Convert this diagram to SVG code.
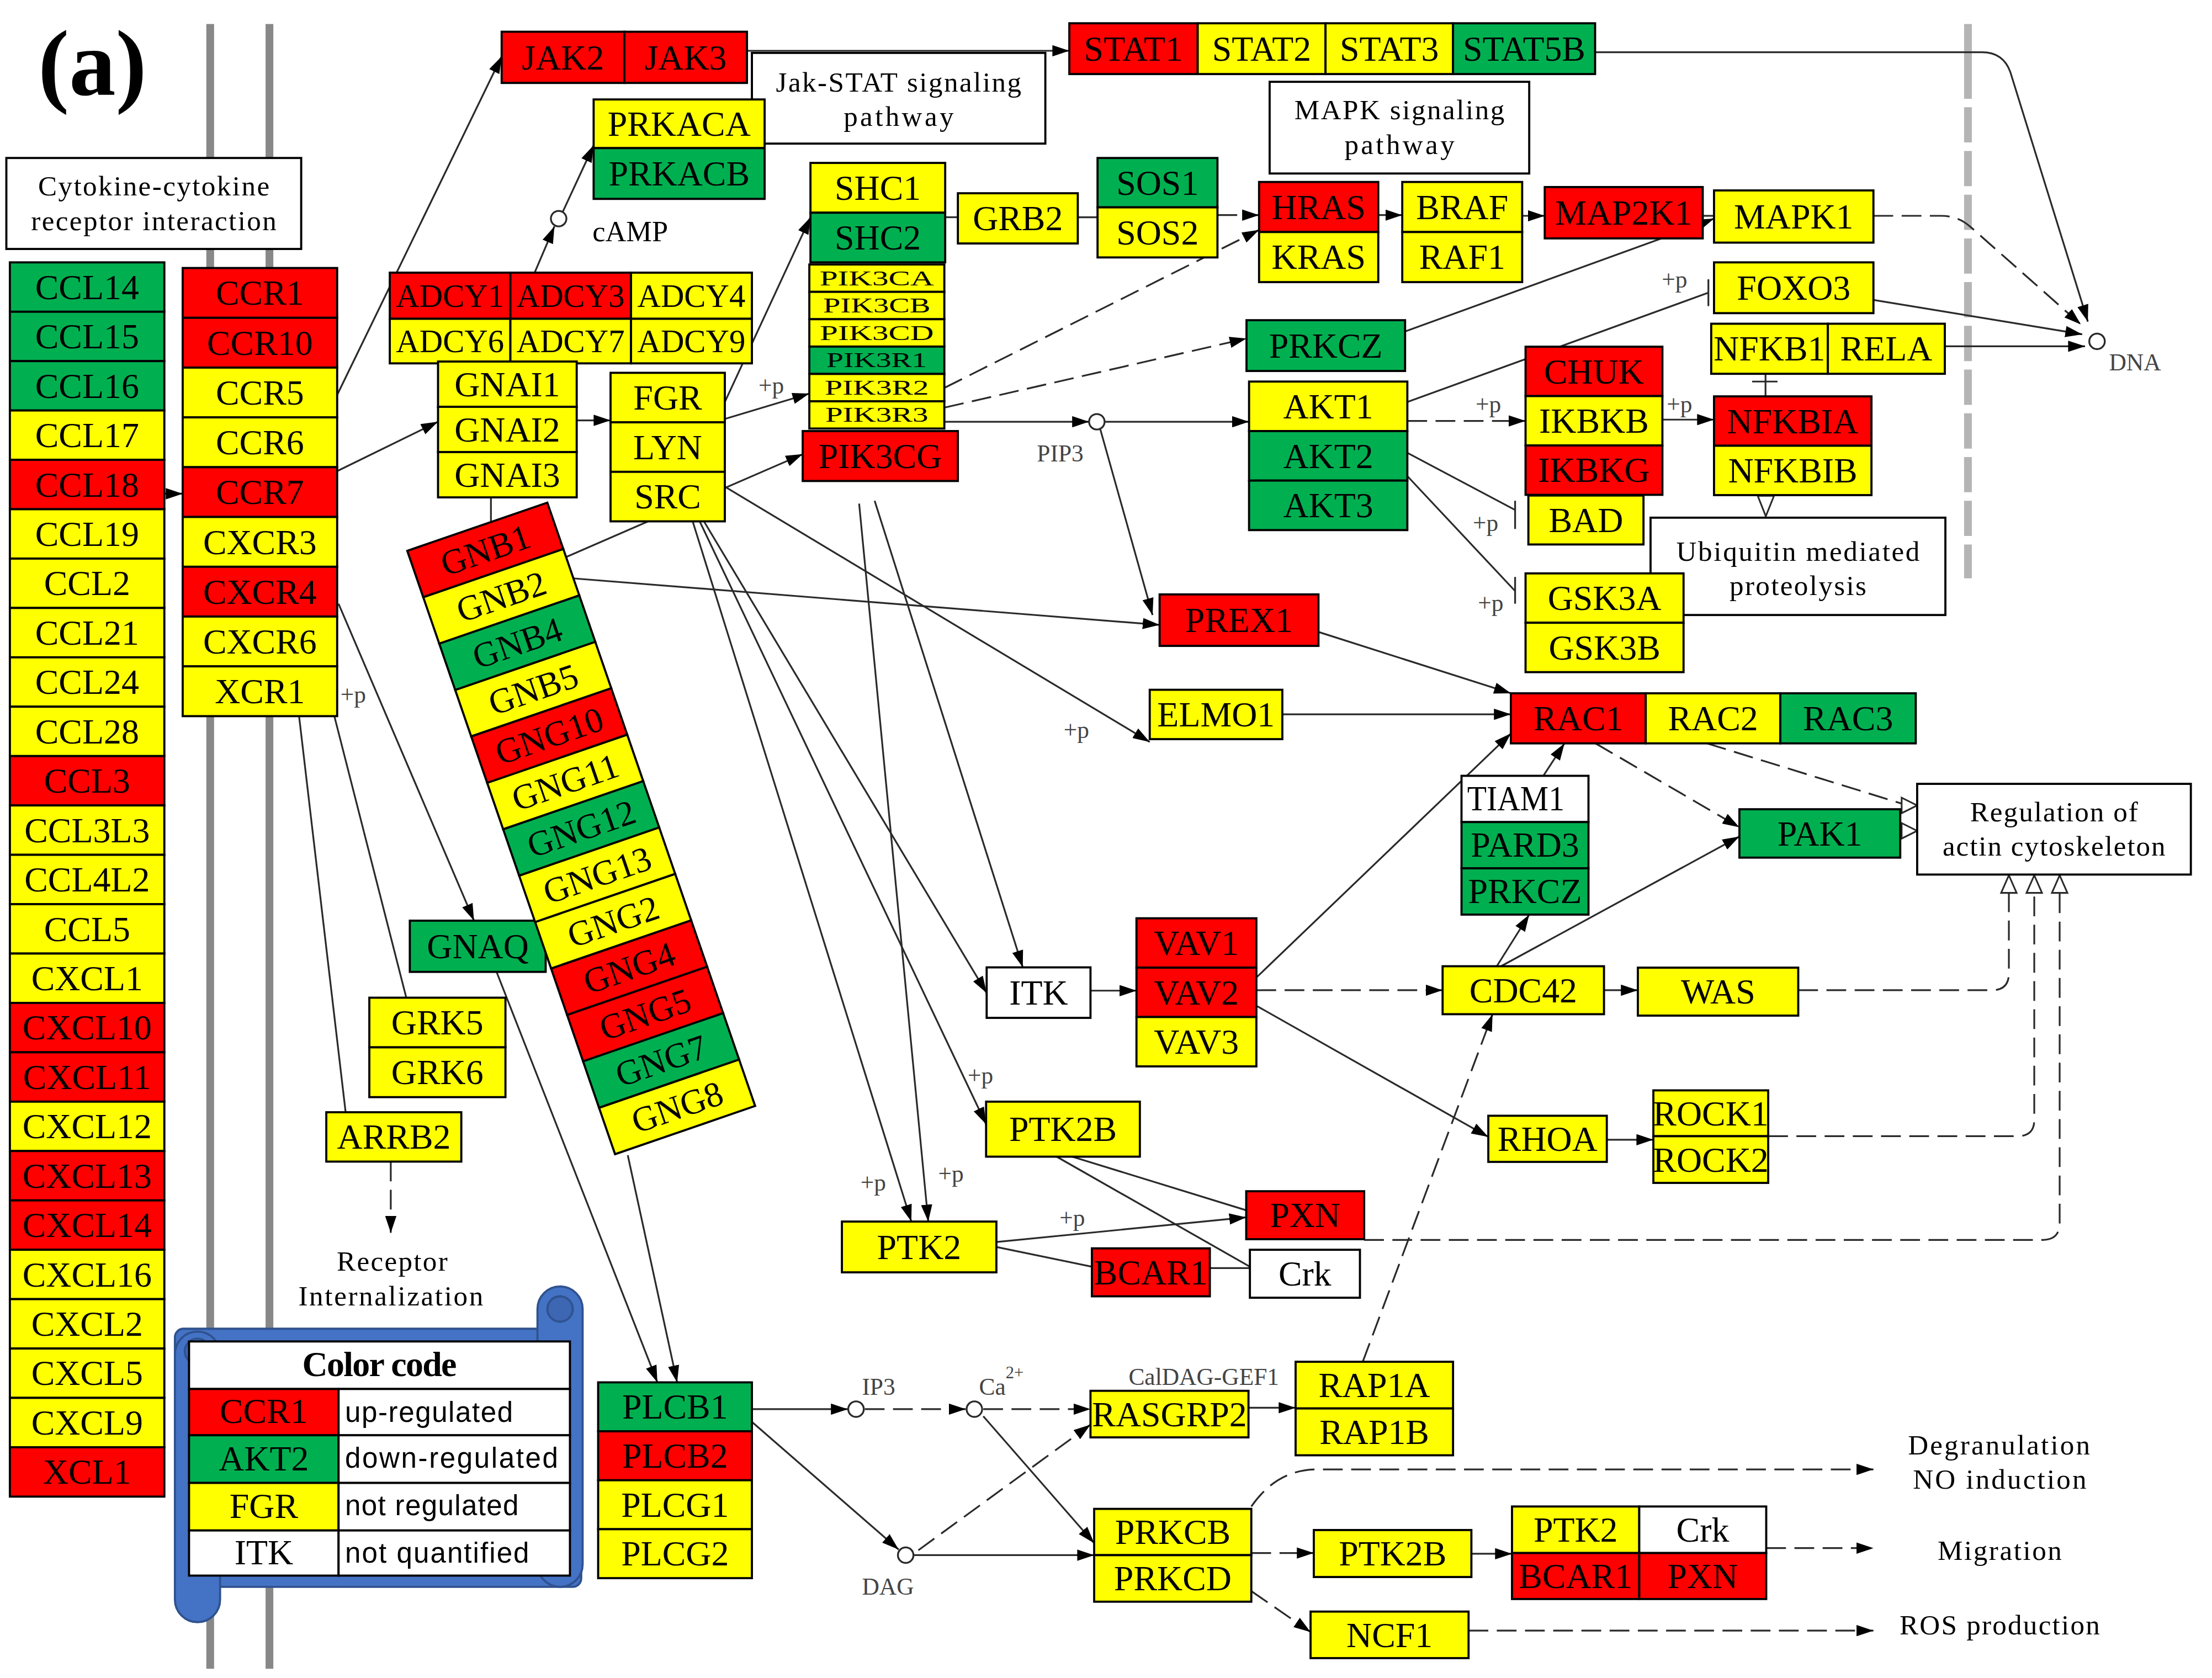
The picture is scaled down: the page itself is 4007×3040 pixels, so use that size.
<svg xmlns="http://www.w3.org/2000/svg" width="4007" height="3040" viewBox="0 0 4007 3040">
<defs>
<style>
text{font-family:"Liberation Serif","Times New Roman",serif;fill:#000}
.n rect{stroke:#000;stroke-width:1.5}
.R{fill:#FF0000}.G{fill:#00B050}.Y{fill:#FFFF00}.W{fill:#FFFFFF}
.n text{font-size:25px;text-anchor:middle}
.s text{font-size:23px}
.pk text{font-size:15px}
.lbl{font-size:20px;text-anchor:middle}
.n .lbl{font-size:20px}
.pp{font-size:17px;fill:#444}
.c line,.c path{stroke:#2a2a2a;stroke-width:1.25;fill:none}
.c .d{stroke-dasharray:14 6}
.tri{fill:#fff;stroke:#2a2a2a;stroke-width:1.2}
.dot{fill:#fff;stroke:#2a2a2a;stroke-width:1.3}
.leg{font-family:"Liberation Sans",Arial,sans-serif;font-size:20px}
</style>
<marker id="a" viewBox="0 0 12 8" refX="12" refY="4" markerWidth="12" markerHeight="8" markerUnits="userSpaceOnUse" orient="auto"><path d="M0,0L12,4L0,8z" fill="#000"/></marker>
</defs>
<rect x="0" y="0" width="4007" height="3040" fill="#fff"/>
<g transform="scale(2.5555)">
<g id="membrane">
<line x1="149" y1="17" x2="149" y2="1183" stroke="#888" stroke-width="5.5"/>
<line x1="191" y1="17" x2="191" y2="1183" stroke="#888" stroke-width="5.5"/>
<line x1="1395" y1="17" x2="1395" y2="70" stroke="#b5b5b5" stroke-width="5.5"/>
<line x1="1395" y1="76" x2="1395" y2="410" stroke="#b5b5b5" stroke-width="5.5" stroke-dasharray="25 6"/>
</g>
<text x="27" y="67.5" font-size="66" font-weight="bold">(a)</text>

<g id="connectors" class="c">
<line x1="116" y1="350" x2="129.5" y2="350" marker-end="url(#a)"/>
<line x1="239" y1="280" x2="355.6" y2="40" marker-end="url(#a)"/>
<line x1="239" y1="334" x2="310.5" y2="299" marker-end="url(#a)"/>
<line x1="240" y1="428" x2="336" y2="652.7" marker-end="url(#a)"/>
<line x1="379" y1="193.3" x2="393" y2="160.5" marker-end="url(#a)"/>
<line x1="399" y1="150" x2="420.8" y2="103" marker-end="url(#a)"/>
<line x1="529.5" y1="36" x2="758" y2="36" marker-end="url(#a)"/>
<line x1="408.8" y1="298" x2="432.8" y2="298" marker-end="url(#a)"/>
<line x1="513.8" y1="297" x2="573.7" y2="279" marker-end="url(#a)"/>
<line x1="513.8" y1="285" x2="574.5" y2="154" marker-end="url(#a)"/>
<line x1="401" y1="395" x2="569" y2="322" marker-end="url(#a)"/>
<line x1="669.4" y1="299" x2="772" y2="299" marker-end="url(#a)"/>
<line x1="783" y1="299" x2="885.4" y2="299" marker-end="url(#a)"/>
<line x1="780" y1="304.5" x2="817" y2="436" marker-end="url(#a)"/>
<line x1="406" y1="410" x2="822" y2="443" marker-end="url(#a)"/>
<line x1="513.8" y1="345" x2="815" y2="526" marker-end="url(#a)"/>
<line x1="499" y1="369.6" x2="699.4" y2="704" marker-end="url(#a)"/>
<line x1="496" y1="369.6" x2="699" y2="797" marker-end="url(#a)"/>
<line x1="491" y1="369.6" x2="646" y2="866" marker-end="url(#a)"/>
<line x1="620" y1="355" x2="725" y2="685.8" marker-end="url(#a)"/>
<line x1="609" y1="357" x2="658" y2="866" marker-end="url(#a)"/>
<line x1="773" y1="702.3" x2="805.6" y2="702.3" marker-end="url(#a)"/>
<line x1="706.3" y1="880.5" x2="883.4" y2="863" marker-end="url(#a)"/>
<line x1="934.6" y1="448" x2="1071" y2="491.5" marker-end="url(#a)"/>
<line x1="909" y1="506.4" x2="1071" y2="506.4" marker-end="url(#a)"/>
<line x1="890.6" y1="693" x2="1071" y2="520" marker-end="url(#a)"/>
<line x1="1094" y1="550" x2="1109" y2="527" marker-end="url(#a)"/>
<line x1="1061" y1="685" x2="1084" y2="648.4" marker-end="url(#a)"/>
<line x1="1064" y1="685" x2="1233" y2="593" marker-end="url(#a)"/>
<line x1="890.6" y1="713" x2="1055" y2="806" marker-end="url(#a)"/>
<line x1="1139" y1="808" x2="1172" y2="808" marker-end="url(#a)"/>
<line x1="1137" y1="702" x2="1161" y2="702" marker-end="url(#a)"/>
<line x1="885" y1="998" x2="918.4" y2="998" marker-end="url(#a)"/>
<line x1="533" y1="999" x2="601" y2="999" marker-end="url(#a)"/>
<line x1="533" y1="1008" x2="637" y2="1098.5" marker-end="url(#a)"/>
<line x1="697" y1="1004" x2="775.6" y2="1094" marker-end="url(#a)"/>
<line x1="648" y1="1102.5" x2="775.6" y2="1102.5" marker-end="url(#a)"/>
<line x1="352" y1="689" x2="466" y2="980" marker-end="url(#a)"/>
<line x1="445" y1="819" x2="480" y2="980" marker-end="url(#a)"/>
<line x1="1043" y1="1101.5" x2="1071.8" y2="1101.5" marker-end="url(#a)"/>
<line x1="977" y1="152.5" x2="994" y2="152.5" marker-end="url(#a)"/>
<line x1="1079" y1="153" x2="1095" y2="153" marker-end="url(#a)"/>
<line x1="1207" y1="153" x2="1215" y2="153"/>
<path d="M996,235 L1175,170 Q1195,163 1215,155" marker-end="url(#a)"/>
<line x1="1178.4" y1="297.5" x2="1215" y2="297.5" marker-end="url(#a)"/>
<path d="M1130.7,37 L1405,37 Q1420,37 1425,51 L1480,228" marker-end="url(#a)"/>
<line x1="1328" y1="212.6" x2="1476" y2="237" marker-end="url(#a)"/>
<line x1="1378.6" y1="245.5" x2="1478" y2="245.5" marker-end="url(#a)"/>
<line class="d" x1="997.6" y1="298.4" x2="1081.4" y2="298.4" marker-end="url(#a)"/>
<line class="d" x1="863" y1="152.5" x2="892.5" y2="152.5" marker-end="url(#a)"/>
<line class="d" x1="669.4" y1="275" x2="892.5" y2="163" marker-end="url(#a)"/>
<line class="d" x1="669.4" y1="289" x2="883.6" y2="240" marker-end="url(#a)"/>
<path class="d" d="M1328,153 L1376,153 Q1388,153 1397,161 L1475,230" marker-end="url(#a)"/>
<line class="d" x1="890.6" y1="702" x2="1022.6" y2="702" marker-end="url(#a)"/>
<line class="d" x1="966" y1="965.4" x2="1058" y2="719" marker-end="url(#a)"/>
<line class="d" x1="613" y1="999" x2="684.5" y2="999" marker-end="url(#a)"/>
<line class="d" x1="697" y1="999" x2="773" y2="999" marker-end="url(#a)"/>
<line class="d" x1="651" y1="1099" x2="773" y2="1010" marker-end="url(#a)"/>
<line class="d" x1="1131" y1="527" x2="1233" y2="586.5" marker-end="url(#a)"/>
<line class="d" x1="887" y1="1101" x2="931.3" y2="1101" marker-end="url(#a)"/>
<line class="d" x1="887" y1="1128" x2="929" y2="1157" marker-end="url(#a)"/>
<line class="d" x1="277" y1="823.5" x2="277" y2="874" marker-end="url(#a)"/>
<path class="d" d="M887,1068 Q905,1042 933,1041.7 L1328,1041.7" marker-end="url(#a)"/>
<line class="d" x1="1252" y1="1097.5" x2="1328" y2="1097.5" marker-end="url(#a)"/>
<line class="d" x1="1041" y1="1156" x2="1328" y2="1156" marker-end="url(#a)"/>
<line class="d" x1="1210" y1="527" x2="1349" y2="570"/>
<path class="d" d="M1274.7,702 L1412,702 Q1424,702 1424,690 L1424,633"/>
<path class="d" d="M1253.4,805.5 L1430,805.5 Q1442,805.5 1442,794 L1442,633"/>
<path class="d" d="M967,879 L1448,879 Q1460,879 1460,867 L1460,633"/>
<line x1="669.4" y1="154" x2="679" y2="154"/>
<line x1="764" y1="154" x2="778" y2="154"/>
<line x1="237" y1="507.7" x2="288" y2="707.3"/>
<line x1="212" y1="507.7" x2="245" y2="788.5"/>
<line x1="348" y1="352.6" x2="348" y2="370"/>
<line x1="706.3" y1="884" x2="774" y2="898"/>
<line x1="760" y1="820" x2="883.4" y2="858"/>
<line x1="749" y1="820" x2="886" y2="898"/>
<line x1="857.6" y1="899" x2="886" y2="899"/>
<line x1="997.6" y1="285" x2="1211" y2="207.5"/>
<line x1="1211" y1="198" x2="1211" y2="217"/>
<line x1="997.6" y1="321" x2="1074" y2="361.5"/>
<line x1="1074" y1="355" x2="1074" y2="375"/>
<line x1="997.6" y1="337.5" x2="1074" y2="419"/>
<line x1="1074" y1="409" x2="1074" y2="428"/>
<line x1="1251.5" y1="265" x2="1251.5" y2="281"/>
<line x1="1242" y1="270.5" x2="1260" y2="270.5"/>
<polygon class="tri" points="1418.5,633 1429.5,633 1424,620.5"/>
<polygon class="tri" points="1436.5,633 1447.5,633 1442,620.5"/>
<polygon class="tri" points="1454.5,633 1465.5,633 1460,620.5"/>
<polygon class="tri" points="1348,565.5 1348,576.5 1359,571"/>
<polygon class="tri" points="1348,583.5 1348,594.5 1359,589"/>
<polygon class="tri" points="1246,351.5 1257.5,351.5 1251.7,366"/>
<circle class="dot" cx="396" cy="155" r="5.5"/>
<circle class="dot" cx="777.5" cy="299" r="5.5"/>
<circle class="dot" cx="606.8" cy="999" r="5.5"/>
<circle class="dot" cx="690.7" cy="999" r="5.5"/>
<circle class="dot" cx="642" cy="1102.5" r="5.5"/>
<circle class="dot" cx="1486.5" cy="242" r="5.5"/>
</g>

<g id="labels">
<text x="420" y="171" font-size="20.5" fill="#222">cAMP</text>
<text x="735" y="327" class="pp">PIP3</text>
<text x="611" y="989" class="pp" font-size="16">IP3</text>
<text x="694" y="989" class="pp">Ca<tspan dy="-12" font-size="12">2+</tspan></text>
<text x="611" y="1130.5" class="pp">DAG</text>
<text x="800" y="982" class="pp" font-size="18" fill="#555">CalDAG-GEF1</text>
<text x="1495" y="262.5" class="pp">DNA</text>
<text x="537.7" y="279" class="pp">+p</text>
<text x="754" y="523" class="pp">+p</text>
<text x="686" y="768" class="pp">+p</text>
<text x="610" y="844" class="pp">+p</text>
<text x="665" y="838" class="pp">+p</text>
<text x="751" y="869" class="pp">+p</text>
<text x="1046" y="292.5" class="pp">+p</text>
<text x="1044" y="376.5" class="pp">+p</text>
<text x="1047.6" y="433" class="pp">+p</text>
<text x="1178" y="204" class="pp">+p</text>
<text x="1181.5" y="292.5" class="pp">+p</text>
<text x="241.3" y="498" class="pp">+p</text>
<text x="278" y="901" class="lbl" textLength="78.5">Receptor</text>
<text x="277" y="925.5" class="lbl" textLength="131">Internalization</text>
<text x="1417" y="1031" class="lbl" textLength="129">Degranulation</text>
<text x="1417.5" y="1055.5" class="lbl" textLength="123">NO induction</text>
<text x="1417.5" y="1106" class="lbl" textLength="88">Migration</text>
<text x="1417.5" y="1158.5" class="lbl" textLength="142">ROS production</text>
</g>

<g id="pathway-boxes" class="n">
<g id="cytokine-box"><rect class="W" x="4.5" y="112" width="209" height="64.5"/><text class="lbl" x="109" y="138.5" textLength="164">Cytokine-cytokine</text><text class="lbl" x="109" y="163" textLength="174">receptor interaction</text></g>
<g id="jakstat-box"><rect class="W" x="533" y="37.5" width="208" height="64.3"/><text class="lbl" x="637" y="64.8" textLength="174">Jak-STAT signaling</text><text class="lbl" x="637" y="89.3" textLength="78">pathway</text></g>
<g id="mapk-box"><rect class="W" x="900" y="58" width="184" height="65"/><text class="lbl" x="992" y="84.5" textLength="149">MAPK signaling</text><text class="lbl" x="992" y="109" textLength="78">pathway</text></g>
<g id="ubiquitin-box"><rect class="W" x="1170" y="367" width="209" height="69"/><text class="lbl" x="1274.5" y="397.5" textLength="172.5">Ubiquitin mediated</text><text class="lbl" x="1274.5" y="422" textLength="97">proteolysis</text></g>
<g id="actin-box"><rect class="W" x="1359" y="555.7" width="194" height="64.3"/><text class="lbl" x="1456" y="582.2" textLength="119">Regulation of</text><text class="lbl" x="1456" y="606.7" textLength="158">actin cytoskeleton</text></g>
</g>

<g class="n">
<g id="ccl">
<rect class="G" x="7" y="186" width="109.5" height="35"/><text x="61.75" y="212">CCL14</text>
<rect class="G" x="7" y="221" width="109.5" height="35"/><text x="61.75" y="247">CCL15</text>
<rect class="G" x="7" y="256" width="109.5" height="35"/><text x="61.75" y="282">CCL16</text>
<rect class="Y" x="7" y="291" width="109.5" height="35"/><text x="61.75" y="317">CCL17</text>
<rect class="R" x="7" y="326" width="109.5" height="35"/><text x="61.75" y="352">CCL18</text>
<rect class="Y" x="7" y="361" width="109.5" height="35"/><text x="61.75" y="387">CCL19</text>
<rect class="Y" x="7" y="396" width="109.5" height="35"/><text x="61.75" y="422">CCL2</text>
<rect class="Y" x="7" y="431" width="109.5" height="35"/><text x="61.75" y="457">CCL21</text>
<rect class="Y" x="7" y="466" width="109.5" height="35"/><text x="61.75" y="492">CCL24</text>
<rect class="Y" x="7" y="501" width="109.5" height="35"/><text x="61.75" y="527">CCL28</text>
<rect class="R" x="7" y="536" width="109.5" height="35"/><text x="61.75" y="562">CCL3</text>
<rect class="Y" x="7" y="571" width="109.5" height="35"/><text x="61.75" y="597">CCL3L3</text>
<rect class="Y" x="7" y="606" width="109.5" height="35"/><text x="61.75" y="632">CCL4L2</text>
<rect class="Y" x="7" y="641" width="109.5" height="35"/><text x="61.75" y="667">CCL5</text>
<rect class="Y" x="7" y="676" width="109.5" height="35"/><text x="61.75" y="702">CXCL1</text>
<rect class="R" x="7" y="711" width="109.5" height="35"/><text x="61.75" y="737">CXCL10</text>
<rect class="R" x="7" y="746" width="109.5" height="35"/><text x="61.75" y="772">CXCL11</text>
<rect class="Y" x="7" y="781" width="109.5" height="35"/><text x="61.75" y="807">CXCL12</text>
<rect class="R" x="7" y="816" width="109.5" height="35"/><text x="61.75" y="842">CXCL13</text>
<rect class="R" x="7" y="851" width="109.5" height="35"/><text x="61.75" y="877">CXCL14</text>
<rect class="Y" x="7" y="886" width="109.5" height="35"/><text x="61.75" y="912">CXCL16</text>
<rect class="Y" x="7" y="921" width="109.5" height="35"/><text x="61.75" y="947">CXCL2</text>
<rect class="Y" x="7" y="956" width="109.5" height="35"/><text x="61.75" y="982">CXCL5</text>
<rect class="Y" x="7" y="991" width="109.5" height="35"/><text x="61.75" y="1017">CXCL9</text>
<rect class="R" x="7" y="1026" width="109.5" height="35"/><text x="61.75" y="1052">XCL1</text>
</g>
<g id="ccr">
<rect class="R" x="129.5" y="190" width="109.5" height="35.3"/><text x="184.25" y="216.2">CCR1</text>
<rect class="R" x="129.5" y="225.3" width="109.5" height="35.3"/><text x="184.25" y="251.5">CCR10</text>
<rect class="Y" x="129.5" y="260.6" width="109.5" height="35.3"/><text x="184.25" y="286.8">CCR5</text>
<rect class="Y" x="129.5" y="295.9" width="109.5" height="35.3"/><text x="184.25" y="322.1">CCR6</text>
<rect class="R" x="129.5" y="331.2" width="109.5" height="35.3"/><text x="184.25" y="357.4">CCR7</text>
<rect class="Y" x="129.5" y="366.5" width="109.5" height="35.3"/><text x="184.25" y="392.7">CXCR3</text>
<rect class="R" x="129.5" y="401.8" width="109.5" height="35.3"/><text x="184.25" y="428">CXCR4</text>
<rect class="Y" x="129.5" y="437.1" width="109.5" height="35.3"/><text x="184.25" y="463.3">CXCR6</text>
<rect class="Y" x="129.5" y="472.4" width="109.5" height="35.3"/><text x="184.25" y="498.6">XCR1</text>
</g>
<g id="jak">
<rect class="R" x="355.6" y="22.5" width="87" height="36.3"/><text x="399.1" y="49.2">JAK2</text>
<rect class="R" x="442.6" y="22.5" width="86.9" height="36.3"/><text x="486" y="49.2">JAK3</text>
</g>
<g id="prkac">
<rect class="Y" x="420.8" y="70.5" width="121.2" height="34.5"/><text x="481.4" y="96.3">PRKACA</text>
<rect class="G" x="420.8" y="105" width="121.2" height="36"/><text x="481.4" y="131.5">PRKACB</text>
</g>
<g id="stat">
<rect class="R" x="758" y="16.5" width="91" height="36"/><text x="803.5" y="43">STAT1</text>
<rect class="Y" x="849" y="16.5" width="90.6" height="36"/><text x="894.3" y="43">STAT2</text>
<rect class="Y" x="939.6" y="16.5" width="90.4" height="36"/><text x="984.8" y="43">STAT3</text>
<rect class="G" x="1030" y="16.5" width="100.7" height="36"/><text x="1080.4" y="43">STAT5B</text>
</g>
<g id="adcy" class="s">
<rect class="R" x="276.3" y="193.3" width="85.5" height="32.7"/><text x="319" y="217.5">ADCY1</text>
<rect class="R" x="361.8" y="193.3" width="85.5" height="32.7"/><text x="404.5" y="217.5">ADCY3</text>
<rect class="Y" x="447.3" y="193.3" width="85.7" height="32.7"/><text x="490.1" y="217.5">ADCY4</text>
<rect class="Y" x="276.3" y="226" width="85.5" height="31.6"/><text x="319" y="249.6">ADCY6</text>
<rect class="Y" x="361.8" y="226" width="85.5" height="31.6"/><text x="404.5" y="249.6">ADCY7</text>
<rect class="Y" x="447.3" y="226" width="85.7" height="31.6"/><text x="490.1" y="249.6">ADCY9</text>
</g>
<g id="gnai">
<rect class="Y" x="310.5" y="256.3" width="98.3" height="32.1"/><text x="359.6" y="281">GNAI1</text>
<rect class="Y" x="310.5" y="288.4" width="98.3" height="32.1"/><text x="359.6" y="313.1">GNAI2</text>
<rect class="Y" x="310.5" y="320.5" width="98.3" height="32.1"/><text x="359.6" y="345.2">GNAI3</text>
</g>
<g id="src">
<rect class="Y" x="432.8" y="264.3" width="81" height="35.1"/><text x="473.3" y="290.4">FGR</text>
<rect class="Y" x="432.8" y="299.4" width="81" height="35.1"/><text x="473.3" y="325.5">LYN</text>
<rect class="Y" x="432.8" y="334.5" width="81" height="35.1"/><text x="473.3" y="360.6">SRC</text>
</g>
<g id="shc">
<rect class="Y" x="574.5" y="115.5" width="95.5" height="35.3"/><text x="622.25" y="141.6">SHC1</text>
<rect class="G" x="574.5" y="150.8" width="95.5" height="35.2"/><text x="622.25" y="176.9">SHC2</text>
</g>
<g id="pik3" class="pk">
<rect class="Y" x="573.7" y="187.5" width="95.7" height="19.4"/><text x="621.5" y="202.2" textLength="81" lengthAdjust="spacingAndGlyphs">PIK3CA</text>
<rect class="Y" x="573.7" y="206.9" width="95.7" height="19.4"/><text x="621.5" y="221.6" textLength="76" lengthAdjust="spacingAndGlyphs">PIK3CB</text>
<rect class="Y" x="573.7" y="226.3" width="95.7" height="19.4"/><text x="621.5" y="241" textLength="80.7" lengthAdjust="spacingAndGlyphs">PIK3CD</text>
<rect class="G" x="573.7" y="245.7" width="95.7" height="19.4"/><text x="621.5" y="260.3" textLength="71.3" lengthAdjust="spacingAndGlyphs">PIK3R1</text>
<rect class="Y" x="573.7" y="265.1" width="95.7" height="19.4"/><text x="621.5" y="279.7" textLength="73.8" lengthAdjust="spacingAndGlyphs">PIK3R2</text>
<rect class="Y" x="573.7" y="284.5" width="95.7" height="19.3"/><text x="621.5" y="299.1" textLength="73" lengthAdjust="spacingAndGlyphs">PIK3R3</text>
</g>
<g id="pik3cg"><rect class="R" x="569" y="305.6" width="110" height="35.4"/><text x="624" y="331.8">PIK3CG</text></g>
<g id="grb2"><rect class="Y" x="679" y="137" width="85" height="35.6"/><text x="721.5" y="163.3">GRB2</text></g>
<g id="sos">
<rect class="G" x="778" y="112" width="85" height="35"/><text x="820.5" y="138">SOS1</text>
<rect class="Y" x="778" y="147" width="85" height="35.5"/><text x="820.5" y="173.2">SOS2</text>
</g>
<g id="ras">
<rect class="R" x="892.5" y="129" width="84.5" height="35.5"/><text x="934.75" y="155.2">HRAS</text>
<rect class="Y" x="892.5" y="164.5" width="84.5" height="35.5"/><text x="934.75" y="190.7">KRAS</text>
</g>
<g id="raf">
<rect class="Y" x="994" y="129" width="85" height="35.5"/><text x="1036.5" y="155.2">BRAF</text>
<rect class="Y" x="994" y="164.5" width="85" height="35.5"/><text x="1036.5" y="190.7">RAF1</text>
</g>
<g id="map2k1"><rect class="R" x="1095" y="132.6" width="112" height="36.4"/><text x="1151" y="159.3">MAP2K1</text></g>
<g id="mapk1"><rect class="Y" x="1215" y="135" width="113" height="37"/><text x="1271.5" y="162">MAPK1</text></g>
<g id="foxo3"><rect class="Y" x="1215" y="186" width="113" height="36"/><text x="1271.5" y="212.5">FOXO3</text></g>
<g id="nfkb">
<rect class="Y" x="1213" y="229.5" width="82.7" height="35.5"/><text x="1254.3" y="255.7">NFKB1</text>
<rect class="Y" x="1295.7" y="229.5" width="82.9" height="35.5"/><text x="1337.1" y="255.7">RELA</text>
</g>
<g id="prkcz"><rect class="G" x="883.6" y="227" width="112.4" height="36"/><text x="939.8" y="253.5">PRKCZ</text></g>
<g id="akt">
<rect class="Y" x="885.4" y="270.5" width="112.2" height="35.1"/><text x="941.5" y="296.6">AKT1</text>
<rect class="G" x="885.4" y="305.6" width="112.2" height="35.1"/><text x="941.5" y="331.7">AKT2</text>
<rect class="G" x="885.4" y="340.7" width="112.2" height="35.1"/><text x="941.5" y="366.8">AKT3</text>
</g>
<g id="ikk">
<rect class="R" x="1081.4" y="245.8" width="97" height="35"/><text x="1129.9" y="271.8">CHUK</text>
<rect class="Y" x="1081.4" y="280.8" width="97" height="35"/><text x="1129.9" y="306.8">IKBKB</text>
<rect class="R" x="1081.4" y="315.8" width="97" height="35"/><text x="1129.9" y="341.8">IKBKG</text>
</g>
<g id="nfkbi">
<rect class="R" x="1215" y="281" width="111.6" height="35"/><text x="1270.8" y="307">NFKBIA</text>
<rect class="Y" x="1215" y="316" width="111.6" height="35"/><text x="1270.8" y="342">NFKBIB</text>
</g>
<g id="bad"><rect class="Y" x="1083.4" y="351.3" width="81.6" height="34.7"/><text x="1124.2" y="377.2">BAD</text></g>
<g id="gsk3">
<rect class="Y" x="1081.4" y="406.5" width="112" height="35"/><text x="1137.4" y="432.5">GSK3A</text>
<rect class="Y" x="1081.4" y="441.5" width="112" height="35"/><text x="1137.4" y="467.5">GSK3B</text>
</g>
<g id="prex1"><rect class="R" x="822" y="421.4" width="112.6" height="36.5"/><text x="878.3" y="448.2">PREX1</text></g>
<g id="elmo1"><rect class="Y" x="815" y="489" width="94" height="35"/><text x="862" y="515">ELMO1</text></g>
<g id="rac">
<rect class="R" x="1071" y="491.5" width="95.6" height="35.5"/><text x="1118.8" y="517.7">RAC1</text>
<rect class="Y" x="1166.6" y="491.5" width="95.4" height="35.5"/><text x="1214.3" y="517.7">RAC2</text>
<rect class="G" x="1262" y="491.5" width="96" height="35.5"/><text x="1310" y="517.7">RAC3</text>
</g>
<g id="tiam">
<rect class="W" x="1036" y="550" width="90" height="32.8"/><text x="1074.5" y="574.4" font-size="24" textLength="69" lengthAdjust="spacingAndGlyphs">TIAM1</text>
<rect class="G" x="1036" y="582.8" width="90" height="32.8"/><text x="1081" y="607.2" font-size="24">PARD3</text>
<rect class="G" x="1036" y="615.6" width="90" height="32.8"/><text x="1081" y="640" font-size="24">PRKCZ</text>
</g>
<g id="pak1"><rect class="G" x="1233" y="573.7" width="114" height="34.3"/><text x="1290" y="599.4">PAK1</text></g>
<g id="itk"><rect class="W" x="699.4" y="685.8" width="73.6" height="35.8"/><text x="736.2" y="712.2">ITK</text></g>
<g id="vav">
<rect class="R" x="805.6" y="651" width="85" height="35"/><text x="848.1" y="677">VAV1</text>
<rect class="R" x="805.6" y="686" width="85" height="35"/><text x="848.1" y="712">VAV2</text>
<rect class="Y" x="805.6" y="721" width="85" height="35"/><text x="848.1" y="747">VAV3</text>
</g>
<g id="cdc42"><rect class="Y" x="1022.6" y="685" width="114.4" height="34"/><text x="1079.8" y="710.5">CDC42</text></g>
<g id="was"><rect class="Y" x="1161" y="686" width="113.7" height="34"/><text x="1217.9" y="711.5">WAS</text></g>
<g id="rhoa"><rect class="Y" x="1055" y="791" width="84" height="32.7"/><text x="1097" y="815.9">RHOA</text></g>
<g id="rock">
<rect class="Y" x="1172" y="773" width="81.4" height="32.5"/><text x="1212.7" y="797.8">ROCK1</text>
<rect class="Y" x="1172" y="805.5" width="81.4" height="33.1"/><text x="1212.7" y="830.6">ROCK2</text>
</g>
<g id="ptk2b-a"><rect class="Y" x="699" y="781" width="109" height="39"/><text x="753.5" y="809">PTK2B</text></g>
<g id="ptk2-a"><rect class="Y" x="596.8" y="866" width="109.5" height="36"/><text x="651.5" y="892.5">PTK2</text></g>
<g id="pxn-a"><rect class="R" x="883.4" y="844.5" width="83.6" height="34"/><text x="925.2" y="870">PXN</text></g>
<g id="bcar1-a"><rect class="R" x="774" y="885" width="83.6" height="34"/><text x="815.8" y="910.5">BCAR1</text></g>
<g id="crk-a"><rect class="W" x="886" y="886" width="78" height="34"/><text x="925" y="911.5">Crk</text></g>
<g id="rasgrp2"><rect class="Y" x="773" y="986" width="112" height="33"/><text x="829" y="1011" font-size="24">RASGRP2</text></g>
<g id="rap1">
<rect class="Y" x="918.4" y="965.4" width="111.6" height="33.1"/><text x="974.2" y="990.5">RAP1A</text>
<rect class="Y" x="918.4" y="998.5" width="111.6" height="33.2"/><text x="974.2" y="1023.6">RAP1B</text>
</g>
<g id="plc">
<rect class="G" x="424" y="980" width="109" height="34.7"/><text x="478.5" y="1005.8">PLCB1</text>
<rect class="R" x="424" y="1014.7" width="109" height="34.7"/><text x="478.5" y="1040.5">PLCB2</text>
<rect class="Y" x="424" y="1049.4" width="109" height="34.7"/><text x="478.5" y="1075.2">PLCG1</text>
<rect class="Y" x="424" y="1084.1" width="109" height="34.7"/><text x="478.5" y="1109.9">PLCG2</text>
</g>
<g id="prkcb">
<rect class="Y" x="775.6" y="1069.7" width="111.4" height="32.8"/><text x="831.3" y="1094.6">PRKCB</text>
<rect class="Y" x="775.6" y="1102.5" width="111.4" height="33"/><text x="831.3" y="1127.5">PRKCD</text>
</g>
<g id="ptk2b-b"><rect class="Y" x="931.3" y="1084.7" width="111.7" height="33.3"/><text x="987.2" y="1109.9">PTK2B</text></g>
<g id="ptk2-complex">
<rect class="Y" x="1071.8" y="1068" width="90.2" height="33"/><text x="1116.9" y="1093">PTK2</text>
<rect class="W" x="1162" y="1068" width="90" height="33"/><text x="1207" y="1093">Crk</text>
<rect class="R" x="1071.8" y="1101" width="90.2" height="32.6"/><text x="1116.9" y="1125.8">BCAR1</text>
<rect class="R" x="1162" y="1101" width="90" height="32.6"/><text x="1207" y="1125.8">PXN</text>
</g>
<g id="ncf1"><rect class="Y" x="929" y="1142.5" width="112" height="33"/><text x="985" y="1167.5">NCF1</text></g>
<g id="gnaq"><rect class="G" x="290.5" y="652.7" width="96.3" height="36.3"/><text x="338.7" y="679.4">GNAQ</text></g>
<g id="grk">
<rect class="Y" x="261.8" y="707.3" width="96.5" height="35.2"/><text x="310" y="733.4">GRK5</text>
<rect class="Y" x="261.8" y="742.5" width="96.5" height="35.3"/><text x="310" y="768.7">GRK6</text>
</g>
<g id="arrb2"><rect class="Y" x="231.3" y="788.5" width="95.7" height="35"/><text x="279.2" y="814.5">ARRB2</text></g>
<g id="gnb-gng" transform="translate(288.7,390.5) rotate(-19)">
<rect class="R" x="0" y="0" width="105" height="34.8"/><text x="52.5" y="26">GNB1</text>
<rect class="Y" x="0" y="34.8" width="105" height="34.8"/><text x="52.5" y="60.8">GNB2</text>
<rect class="G" x="0" y="69.6" width="105" height="34.8"/><text x="52.5" y="95.6">GNB4</text>
<rect class="Y" x="0" y="104.4" width="105" height="34.8"/><text x="52.5" y="130.4">GNB5</text>
<rect class="R" x="0" y="139.2" width="105" height="34.8"/><text x="52.5" y="165.2">GNG10</text>
<rect class="Y" x="0" y="174" width="105" height="34.8"/><text x="52.5" y="200">GNG11</text>
<rect class="G" x="0" y="208.8" width="105" height="34.8"/><text x="52.5" y="234.8">GNG12</text>
<rect class="Y" x="0" y="243.6" width="105" height="34.8"/><text x="52.5" y="269.6">GNG13</text>
<rect class="Y" x="0" y="278.4" width="105" height="34.8"/><text x="52.5" y="304.4">GNG2</text>
<rect class="R" x="0" y="313.2" width="105" height="34.8"/><text x="52.5" y="339.2">GNG4</text>
<rect class="R" x="0" y="348" width="105" height="34.8"/><text x="52.5" y="374">GNG5</text>
<rect class="G" x="0" y="382.8" width="105" height="34.8"/><text x="52.5" y="408.8">GNG7</text>
<rect class="Y" x="0" y="417.6" width="105" height="34.8"/><text x="52.5" y="443.6">GNG8</text>
</g>
</g>

<g id="legend">
<g fill="#4472C4" stroke="#2F528F" stroke-width="1.5">
<rect x="124" y="942" width="288" height="183" rx="6"/>
<rect x="124" y="944" width="32" height="206" rx="16"/>
<rect x="381" y="912" width="32" height="213" rx="16"/>
<circle cx="140" cy="958" r="9" fill="#3D66B3"/>
<circle cx="397" cy="928" r="9" fill="#3D66B3"/>
</g>
<g class="n">
<rect class="W" x="134" y="951" width="270" height="33.7"/>
<rect class="R" x="134" y="984.7" width="106" height="32.8"/><rect class="W" x="240" y="984.7" width="164" height="32.8"/>
<rect class="G" x="134" y="1017.5" width="106" height="33.8"/><rect class="W" x="240" y="1017.5" width="164" height="33.8"/>
<rect class="Y" x="134" y="1051.3" width="106" height="33.7"/><rect class="W" x="240" y="1051.3" width="164" height="33.7"/>
<rect class="W" x="134" y="1085" width="106" height="32"/><rect class="W" x="240" y="1085" width="164" height="32"/>
<text x="269" y="975.6" font-size="23" font-weight="bold" textLength="109.5">Color code</text>
<text x="187" y="1009" font-size="23">CCR1</text>
<text x="187" y="1042.4" font-size="23">AKT2</text>
<text x="187" y="1076.2" font-size="23">FGR</text>
<text x="187" y="1109" font-size="23">ITK</text>
</g>
<text class="leg" x="244.6" y="1008" textLength="119">up-regulated</text>
<text class="leg" x="244.6" y="1040.5" textLength="151">down-regulated</text>
<text class="leg" x="244.6" y="1074" textLength="123">not regulated</text>
<text class="leg" x="244.6" y="1108" textLength="130.5">not quantified</text>
</g>
</g>
</svg>
